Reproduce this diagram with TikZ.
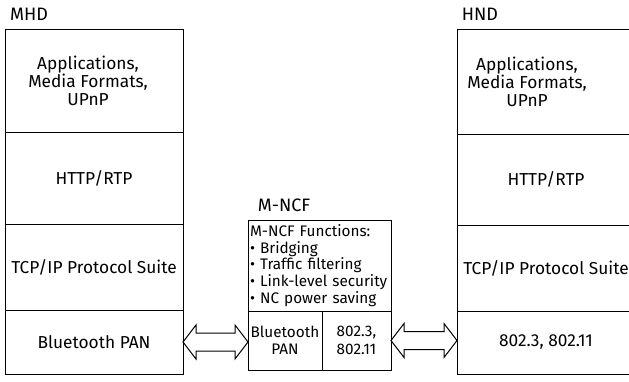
\documentclass[tikz,border=0pt]{standalone}
\usepackage{fontspec}
\setmainfont{Fira Sans}
\usetikzlibrary{calc,positioning}
\tikzset{
  layer/.style={draw, line width=1pt, minimum width=178pt, minimum height=#1,
                inner sep=0pt, outer sep=0pt, align=center, font=\fontsize{17.3}{18}\selectfont},
  cell/.style={draw, line width=1pt, minimum width=#1, minimum height=59pt,
               inner sep=1pt, outer sep=0pt, align=center, font=\fontsize{15.3}{17.5}\selectfont},
  devtitle/.style={font=\fontsize{18}{20}\selectfont, inner sep=0pt},
  txt/.style={font=\fontsize{17.3}{18}\selectfont, align=center, inner sep=0pt},
  fatarrow/.style={line width=1pt, to path={
    let \p1=(\tikztostart), \p2=(\tikztotarget) in
    -- (\x1+13pt,\y1+17pt) -- (\x1+13pt,\y1+9pt) -- (\x2-13pt,\y1+9pt)
    -- (\x2-13pt,\y1+17pt) -- (\x2,\y1) -- (\x2-13pt,\y1-17pt)
    -- (\x2-13pt,\y1-9pt) -- (\x1+13pt,\y1-9pt) -- (\x1+13pt,\y1-17pt) -- cycle}},
}

\begin{document}
\begin{tikzpicture}[x=1pt, y=-1pt]
\useasboundingbox (0,0) rectangle (629,381);

% MHD stack
\node[devtitle] (mhd) at (29,14) {MHD};
\node[layer=103pt] (mhdapp) at (94,80.5) {};
\node[txt] (mhdapptext) at ([xshift=-6pt]mhdapp.center) {Applications,\\Media Formats,\\UPnP};
\node[layer=92pt, below=0pt of mhdapp] (mhdhttp) {HTTP/RTP};
\node[layer=86pt, below=0pt of mhdhttp] (mhdtcp) {TCP/IP Protocol Suite};
\node[layer=64pt, below=0pt of mhdtcp] (mhdpan) {Bluetooth PAN};

% HND stack
\node[devtitle] (hnd) at (480,14) {HND};
\node[layer=105pt] (hndapp) at (546,81.5) {};
\node[txt] (hndapptext) at ([xshift=-19pt]hndapp.center) {Applications,\\Media Formats,\\UPnP};
\node[layer=91pt, below=0pt of hndapp] (hndhttp) {HTTP/RTP};
\node[layer=86pt, below=0pt of hndhttp] (hndtcp) {TCP/IP Protocol Suite};
\node[layer=63pt, below=0pt of hndtcp] (hndpan) {802.3, 802.11};

% M-NCF
\node[devtitle] (mncf) at (284,205) {M-NCF};
\node[draw, line width=1pt, minimum height=91pt, text width=139pt, inner sep=2pt,
      outer sep=0pt, align=left, font=\fontsize{15.3}{16.8}\selectfont] (mncffun) at (319.5,265.5)
      {M-NCF Functions:\\\textbullet{} Bridging\\\textbullet{} Traffic filtering\\
       \textbullet{} Link-level security\\\textbullet{} NC power saving};
\node[cell=74pt, below right=0pt and 0pt of mncffun.south west] (mncfbt) {Bluetooth\\PAN};
\node[cell=69pt, below left=0pt and 0pt of mncffun.south east, align=left] (mncfeth) {802.3,\\802.11};

% Links
\draw[fatarrow] (mhdpan.east) to (mncfbt.west);
\draw[fatarrow] (mncfeth.east) to (hndpan.west);

\end{tikzpicture}
\end{document}
